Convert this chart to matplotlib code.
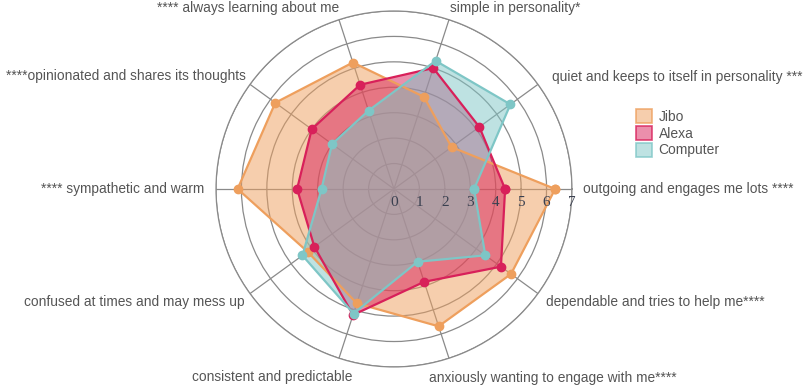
#!/usr/bin/env python3

import matplotlib
matplotlib.use('Agg')
import matplotlib.pyplot as plt
import matplotlib.patches as mpatches
import numpy as np

# Axis labels, counterclockwise from the right
labels = [
    'outgoing and engages me lots ****',
    'quiet and keeps to itself in personality ***',
    'simple in personality*',
    '**** always learning about me',
    '****opinionated and shares its thoughts',
    '**** sympathetic and warm',
    'confused at times and may mess up',
    'consistent and predictable',
    'anxiously wanting to engage with me****',
    'dependable and tries to help me****',
]

series_names = ['Jibo', 'Alexa', 'Computer']
jibo = [6.34, 2.80, 3.81, 5.23, 5.77, 6.15, 4.20, 4.73, 5.68, 5.69]
alexa = [4.37, 4.15, 5.00, 4.31, 4.00, 3.81, 3.87, 5.21, 3.84, 5.20]
computer = [3.15, 5.66, 5.30, 3.24, 3.01, 2.85, 4.45, 5.15, 3.01, 4.44]

radial_ticks = [0, 1, 2, 3, 4, 5, 6, 7]


def main():
    matplotlib.rcParams.update({'font.family': ['Liberation Sans', 'DejaVu Sans']})

    fig = plt.figure(figsize=(8.09, 3.87), dpi=100)
    ax = fig.add_axes([0.267, 0.0517, 0.440, 0.920], projection='polar')

    n = len(labels)
    theta = np.arange(n) * 2 * np.pi / n
    theta_closed = np.append(theta, theta[0])

    colors = ['#EE9F5D', '#D8205A', '#7EC6C6']
    for name, vals, c in zip(series_names, [jibo, alexa, computer], colors):
        v = np.append(vals, vals[0])
        ax.fill(theta_closed, v, color=c, alpha=0.5, lw=0, zorder=2)
        ax.plot(theta_closed, v, '-o', color=c, lw=1.6, ms=6, zorder=3)

    ax.set_ylim(0, 7)
    ax.set_yticks(radial_ticks[1:])
    ax.set_yticklabels([])
    ax.set_xticks(theta)
    ax.set_xticklabels([])
    ax.set_axisbelow(True)
    ax.grid(True, color='#8a8a8a', lw=0.9)
    ax.spines['polar'].set_color('#8a8a8a')
    ax.spines['polar'].set_linewidth(0.9)
    ax.patch.set_alpha(0)

    # Radial tick numbers along the horizontal axis
    for t in radial_ticks:
        ax.annotate(str(t), xy=(0, t), xytext=(0, -14), textcoords='offset pixels',
                    ha='center', va='center', fontsize=11,
                    family='Liberation Serif', color='#3a4050', zorder=5)

    # Axis labels with hand placed offsets (pixels)
    offsets = [(11, 0, 'left'), (14, 7, 'left'), (1, 12, 'left'), (0, 12, 'right'),
               (-4, 8, 'right'), (-12, 0, 'right'), (-5, -8, 'right'),
               (13, -19, 'right'), (-20, -20, 'left'), (8, -8, 'left')]
    for lab, th, (dx, dy, ha) in zip(labels, theta, offsets):
        ax.annotate(lab, xy=(th, 7), xytext=(dx, dy), textcoords='offset pixels',
                    ha=ha, va='center', fontsize=9.9, color='#555555',
                    annotation_clip=False)

    # Legend
    lh = [mpatches.Patch(facecolor=matplotlib.colors.to_rgba(c, 0.5),
                         edgecolor=matplotlib.colors.to_rgba(c, 0.8),
                         lw=1.2, label=s)
          for s, c in zip(series_names, colors)]
    fig.legend(handles=lh, loc='upper left', bbox_to_anchor=(0.778, 0.735),
               frameon=False, fontsize=10, handlelength=1.1, handleheight=1.15,
               handletextpad=0.5, labelspacing=0.15, borderpad=0,
               labelcolor='#555555')

    fig.savefig('out.png', dpi=100)


if __name__ == '__main__':
    main()
